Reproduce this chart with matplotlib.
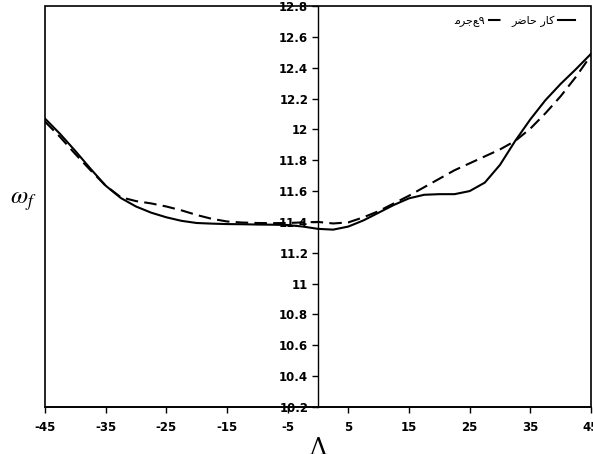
import matplotlib
matplotlib.use("Agg")
import matplotlib.pyplot as plt
from matplotlib.lines import Line2D

plt.rcParams["mathtext.fontset"] = "stix"

# Data
x_vals = [-45, -42.5, -40, -37.5, -35, -32.5, -30, -27.5, -25, -22.5, -20, -17.5, -15,
          -12.5, -10, -7.5, -5, -2.5, 0, 2.5, 5, 7.5, 10, 12.5, 15, 17.5, 20, 22.5,
          25, 27.5, 30, 32.5, 35, 37.5, 40, 42.5, 45]
present_work = [12.07, 11.97, 11.86, 11.745, 11.635, 11.555, 11.50, 11.46, 11.43, 11.407,
                11.393, 11.389, 11.386, 11.385, 11.383, 11.382, 11.38, 11.37, 11.355, 11.35,
                11.37, 11.41, 11.46, 11.51, 11.553, 11.576, 11.58, 11.58, 11.60, 11.655,
                11.77, 11.925, 12.065, 12.19, 12.295, 12.39, 12.49]
reference9 = [12.05, 11.95, 11.84, 11.735, 11.635, 11.56, 11.535, 11.52, 11.50, 11.475,
              11.445, 11.42, 11.403, 11.396, 11.393, 11.392, 11.393, 11.397, 11.40, 11.39,
              11.397, 11.43, 11.47, 11.52, 11.57, 11.625, 11.68, 11.735, 11.78, 11.825,
              11.87, 11.925, 12.005, 12.105, 12.215, 12.34, 12.48]
x_ticks = [-45, -35, -25, -15, -5, 5, 15, 25, 35, 45]
y_ticks = [10.2, 10.4, 10.6, 10.8, 11, 11.2, 11.4, 11.6, 11.8, 12, 12.2, 12.4, 12.6, 12.8]
y_tick_labels = ["10.2", "10.4", "10.6", "10.8", "11", "11.2", "11.4", "11.6", "11.8",
                 "12", "12.2", "12.4", "12.6", "12.8"]
# Visual-order (pre-shaped) Persian labels
label_present = "\uFEAE\uFEBF\uFE8E\uFEA3 \uFEAD\uFE8E\uFB90"   # کار حاضر
label_ref = "\uFEE3\uFEAE\uFE9F\uFECA\u06F9"                   # مرجع۹

fig = plt.figure(figsize=(5.93, 4.54), dpi=100)
ax = fig.add_axes([45/593, 1-407/454, 546/593, 401/454])

ax.plot(x_vals, present_work, color="black", lw=1.5, solid_joinstyle="round")
ax.plot(x_vals, reference9, color="black", lw=1.5, dashes=(6, 3))

ax.set_xlim(-45, 45)
ax.set_ylim(10.2, 12.8)

# frame
ax.patch.set_edgecolor("black")
ax.patch.set_linewidth(1.2)
for s in ["top", "right"]:
    ax.spines[s].set_visible(False)
ax.spines["bottom"].set_linewidth(1.2)
ax.spines["left"].set_position(("data", 0))
ax.spines["left"].set_linewidth(1.0)

ax.set_xticks(x_ticks)
ax.set_xticklabels([str(t) for t in x_ticks], fontsize=8.5, fontweight="bold",
                   family="DejaVu Sans")
ax.set_yticks(y_ticks)
ax.set_yticklabels(y_tick_labels, fontsize=8.5, fontweight="bold", family="DejaVu Sans")
ax.tick_params(axis="x", direction="out", length=4, width=1, pad=6)
ax.tick_params(axis="y", direction="out", length=4, width=1, pad=3)

ax.set_xlabel("\u039b", fontsize=17, family="DejaVu Serif")
ax.set_ylabel(r"$\omega_f$", fontsize=18, rotation=0)
ax.yaxis.set_label_coords(-0.04, 0.485)
ax.xaxis.set_label_coords(0.5, -0.075)

handles = [Line2D([], [], color="black", lw=1.5, dashes=(6, 3)),
           Line2D([], [], color="black", lw=1.5)]
leg = ax.legend(handles, [label_ref, label_present], ncol=2, markerfirst=False,
                loc="upper right", bbox_to_anchor=(0.985, 0.995), borderaxespad=0.3,
                frameon=False, handlelength=1.5, handletextpad=0.3, columnspacing=0.6,
                prop={"family": "DejaVu Sans", "size": 8})

fig.savefig("out.png", dpi=100)
